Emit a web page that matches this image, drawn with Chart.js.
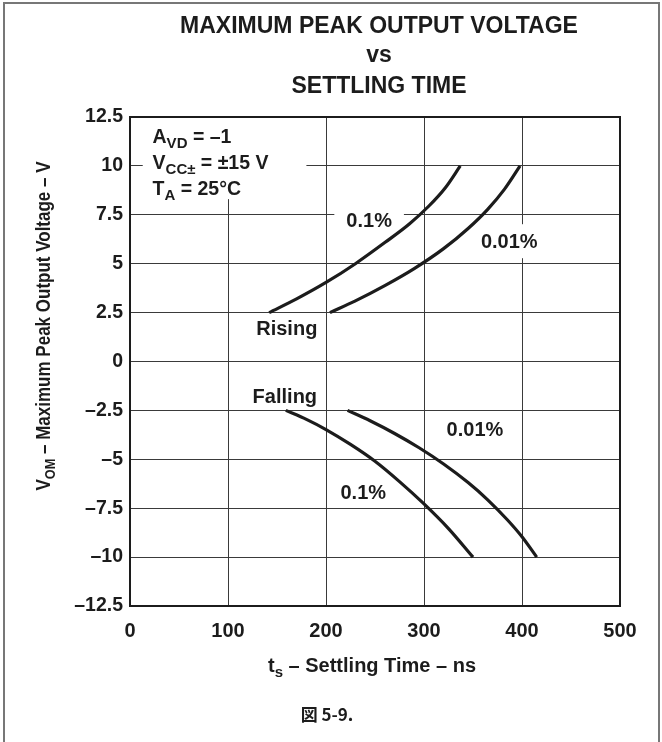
<!DOCTYPE html>
<html><head><meta charset="utf-8">
<script src="https://cdn.jsdelivr.net/npm/chart.js@4.4.1/dist/chart.umd.min.js"></script>
<style>html,body{margin:0;padding:0;background:#fff;}#wrap{width:662px;height:742px;position:relative;}canvas{display:block;}</style>
</head><body><div id="wrap"><canvas id="c" width="662" height="742"></canvas></div>
<script>
// ---- data ----
const titleLines = ['MAXIMUM PEAK OUTPUT VOLTAGE', 'vs', 'SETTLING TIME'];
const xTickValues = [0, 100, 200, 300, 400, 500];
const yTickValues = [12.5, 10, 7.5, 5, 2.5, 0, -2.5, -5, -7.5, -10, -12.5];
const yTickLabels = ['12.5', '10', '7.5', '5', '2.5', '0', '–2.5', '–5', '–7.5', '–10', '–12.5'];

const rising01X = [142, 170, 200, 230, 260, 285, 305, 322, 337];
const rising01Y = [2.5, 3.2, 4.04, 5.0, 6.08, 7.03, 7.95, 8.9, 10];
const rising001X = [204, 230, 260, 290, 320, 345, 365, 382, 398];
const rising001Y = [2.5, 3.1, 3.88, 4.75, 5.77, 6.8, 7.78, 8.8, 10];
const falling01X = [159, 180, 200, 225, 250, 275, 300, 325, 350];
const falling01Y = [-2.5, -2.96, -3.48, -4.24, -5.1, -6.14, -7.28, -8.54, -10];
const falling001X = [222, 245, 270, 295, 320, 345, 365, 385, 400, 415];
const falling001Y = [-2.5, -3.03, -3.68, -4.41, -5.24, -6.19, -7.07, -8.09, -8.96, -10];

const curveLabels = [
  {text: '0.1%', x: 244, y: 7.2, padX: 12, padY: 5},
  {text: '0.01%', x: 387, y: 6.15, padX: 8, padY: 8},
  {text: 'Rising', x: 160, y: 1.7, padX: 4, padY: 2},
  {text: 'Falling', x: 158, y: -1.8, padX: 4, padY: 2},
  {text: '0.01%', x: 352, y: -3.5, padX: 6, padY: 4},
  {text: '0.1%', x: 238, y: -6.7, padX: 6, padY: 4}
];
const conditionLines = [
  [{t: 'A'}, {t: 'VD', sub: true}, {t: ' = –1'}],
  [{t: 'V'}, {t: 'CC±', sub: true}, {t: ' = ±15 V'}],
  [{t: 'T'}, {t: 'A', sub: true}, {t: ' = 25°C'}]
];
const xTitleRuns = [{t: 't'}, {t: 's', sub: true}, {t: ' – Settling Time – ns'}];
const yTitleRuns = [{t: 'V'}, {t: 'OM', sub: true}, {t: ' – Maximum Peak Output Voltage – V'}];
const footerText = '図 5-9.';

// ---- helpers ----
const FONT = '"Liberation Sans", Arial, Helvetica, sans-serif';
const INK = '#1c1c1c';
function pts(xs, ys) { return xs.map((x, i) => ({x: x, y: ys[i]})); }
function setFont(ctx, size) { ctx.font = 'bold ' + size + 'px ' + FONT; }
function drawRuns(ctx, runs, x, y, size, align) {
  const subSize = Math.round(size * 0.75);
  let w = 0;
  runs.forEach(r => { setFont(ctx, r.sub ? subSize : size); w += ctx.measureText(r.t).width; });
  let cx = align === 'center' ? x - w / 2 : (align === 'right' ? x - w : x);
  ctx.textAlign = 'left';
  ctx.textBaseline = 'alphabetic';
  runs.forEach(r => {
    setFont(ctx, r.sub ? subSize : size);
    ctx.fillText(r.t, cx, r.sub ? y + size * 0.25 : y);
    cx += ctx.measureText(r.t).width;
  });
}

const decorPlugin = {
  id: 'decor',
  beforeDatasetsDraw(chart) {
    const ctx = chart.ctx, xs = chart.scales.x, ys = chart.scales.y;
    ctx.save();
    ctx.fillStyle = '#fff';
    const bx0 = xs.getPixelForValue(13), bx1 = xs.getPixelForValue(180);
    const by0 = ys.getPixelForValue(12.5) + 1, by1 = ys.getPixelForValue(8.3);
    ctx.fillRect(bx0, by0, bx1 - bx0, by1 - by0);
    setFont(ctx, 20);
    curveLabels.forEach(l => {
      const px = xs.getPixelForValue(l.x), py = ys.getPixelForValue(l.y);
      const w = ctx.measureText(l.text).width;
      ctx.fillRect(px - w / 2 - l.padX, py - 9 - l.padY, w + 2 * l.padX, 18 + 2 * l.padY);
    });
    ctx.restore();
  },
  afterDatasetsDraw(chart) {
    const ctx = chart.ctx, xs = chart.scales.x, ys = chart.scales.y;
    const a = chart.chartArea;
    ctx.save();
    ctx.strokeStyle = INK;
    ctx.lineWidth = 2;
    ctx.strokeRect(a.left, a.top, a.right - a.left, a.bottom - a.top);
    ctx.fillStyle = INK;
    setFont(ctx, 20);
    ctx.textAlign = 'center';
    ctx.textBaseline = 'middle';
    curveLabels.forEach(l => {
      ctx.fillText(l.text, xs.getPixelForValue(l.x), ys.getPixelForValue(l.y) + 1);
    });
    const cx = xs.getPixelForValue(23);
    conditionLines.forEach((runs, i) => {
      drawRuns(ctx, runs, cx, a.top + 26 + i * 26, 19.5, 'left');
    });
    ctx.restore();
  },
  afterDraw(chart) {
    const ctx = chart.ctx, a = chart.chartArea;
    ctx.save();
    ctx.fillStyle = INK;
    ctx.strokeStyle = '#777';
    ctx.lineWidth = 2;
    ctx.beginPath();
    ctx.moveTo(4, 745); ctx.lineTo(4, 3); ctx.lineTo(659, 3); ctx.lineTo(659, 745);
    ctx.stroke();
    setFont(ctx, 23);
    ctx.textAlign = 'center';
    ctx.textBaseline = 'middle';
    const tc = (a.left + a.right) / 2 + 4;
    ctx.fillText(titleLines[0], tc, 27);
    ctx.fillText(titleLines[1], tc, 56);
    ctx.fillText(titleLines[2], tc, 87);
    drawRuns(ctx, xTitleRuns, (a.left + a.right) / 2 - 3, 672, 20, 'center');
    ctx.save();
    ctx.translate(50, 326);
    ctx.rotate(-Math.PI / 2);
    ctx.scale(0.85, 1);
    drawRuns(ctx, yTitleRuns, 0, 0, 20, 'center');
    ctx.restore();
    ctx.font = 'bold 17px "Noto Sans CJK JP", ' + FONT;
    ctx.textAlign = 'center';
    ctx.textBaseline = 'middle';
    ctx.fillText(footerText, 327, 715);
    ctx.restore();
  }
};

function lineDs(xs, ys) {
  return {
    data: pts(xs, ys),
    borderColor: INK,
    borderWidth: 3.2,
    pointRadius: 0,
    fill: false,
    cubicInterpolationMode: 'monotone',
    borderCapStyle: 'butt'
  };
}

new Chart(document.getElementById('c'), {
  type: 'line',
  data: {
    datasets: [
      lineDs(rising01X, rising01Y),
      lineDs(rising001X, rising001Y),
      lineDs(falling01X, falling01Y),
      lineDs(falling001X, falling001Y)
    ]
  },
  options: {
    responsive: false,
    animation: false,
    devicePixelRatio: 1,
    layout: {padding: {left: 0, top: 117, right: 42, bottom: 96}},
    plugins: {legend: {display: false}, tooltip: {enabled: false}, title: {display: false}},
    scales: {
      x: {
        type: 'linear', min: 0, max: 500,
        afterBuildTicks(s) { s.ticks = xTickValues.map(v => ({value: v})); },
        ticks: {color: INK, font: {family: FONT, size: 20, weight: 'bold'}, padding: 13, maxRotation: 0, autoSkip: false},
        grid: {color: '#3a3a3a', lineWidth: 1, drawTicks: false},
        border: {display: true, color: INK, width: 2},
        afterFit(s) { s.height = 40; }
      },
      y: {
        type: 'linear', min: -12.5, max: 12.5,
        afterBuildTicks(s) { s.ticks = yTickValues.slice().reverse().map(v => ({value: v})); },
        ticks: {
          color: INK, font: {family: FONT, size: 19.5, weight: 'bold'}, padding: 7, autoSkip: false,
          callback(v) { const i = yTickValues.indexOf(v); return i >= 0 ? yTickLabels[i] : ''; }
        },
        grid: {color: '#3a3a3a', lineWidth: 1, drawTicks: false},
        border: {display: true, color: INK, width: 2},
        afterFit(s) { s.width = 130; }
      }
    }
  },
  plugins: [decorPlugin]
});
</script></body></html>
